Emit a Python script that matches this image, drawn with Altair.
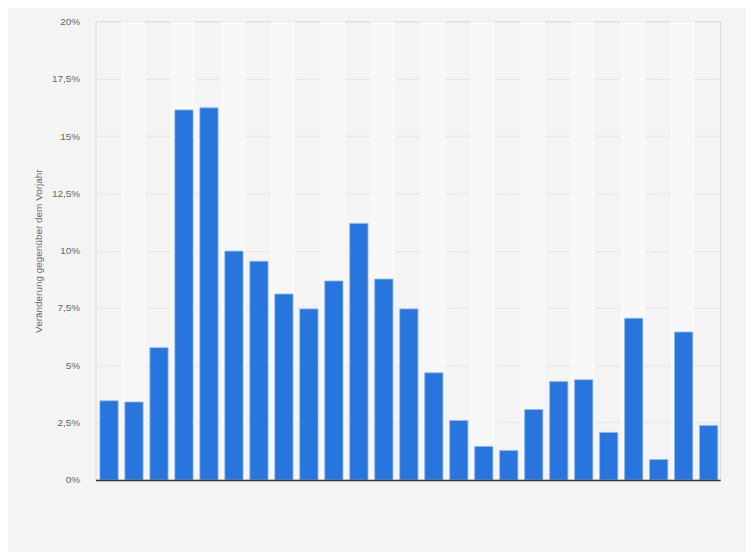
import altair as alt
import pandas as pd

categories = [str(i) for i in range(1, 26)]
values = [3.45, 3.40, 5.77, 16.14, 16.23, 9.98, 9.54, 8.11, 7.46, 8.68,
          11.19, 8.76, 7.46, 4.67, 2.59, 1.46, 1.28, 3.07, 4.29, 4.37,
          2.07, 7.05, 0.89, 6.45, 2.37]
y_ticks = [0, 2.5, 5, 7.5, 10, 12.5, 15, 17.5, 20]

df = pd.DataFrame({"cat": categories, "val": values})
stripes = pd.DataFrame({"cat": categories[1::2]})

x_enc = alt.X("cat:N", sort=categories,
              scale=alt.Scale(domain=categories, paddingInner=0, paddingOuter=0),
              axis=alt.Axis(labels=False, ticks=False, title=None,
                            domain=True, domainColor="#333333", domainWidth=1.5,
                            grid=False))

stripe_layer = alt.Chart(stripes).mark_rect(color="#f8f8f8").encode(
    x=x_enc,
    y=alt.datum(0, type="quantitative"),
    y2=alt.datum(20),
)

bars = alt.Chart(df).mark_bar(
    width=alt.RelativeBandSize(0.73),
    color="#2876dd",
    stroke="#8fb8ee",
    strokeWidth=0.8,
    xOffset=1,
).encode(
    x=x_enc,
    y=alt.Y("val:Q",
            scale=alt.Scale(domain=[0, 20], nice=False),
            axis=alt.Axis(values=y_ticks,
                          labelExpr="replace(format(datum.value, '~g'), '.', ',') + '%'",
                          title="Veränderung gegenüber dem Vorjahr",
                          titleFontWeight="normal", titleFontSize=10,
                          titleColor="#666666", titlePadding=8,
                          labelColor="#666666", labelFontSize=10,
                          labelPadding=16, ticks=False, domain=False,
                          grid=True, gridColor="#dcdcdc", gridDash=[1, 1])),
)

chart = alt.layer(stripe_layer, bars).properties(
    width=628,
    height=461,
    autosize=alt.AutoSizeParams(type="none"),
    padding={"left": 88, "top": 12, "right": 26, "bottom": 71},
    background="#f4f4f4",
).configure_view(stroke=None).configure(font="Liberation Sans")

chart.save("out.html", embed_options={"renderer": "svg", "actions": False})
